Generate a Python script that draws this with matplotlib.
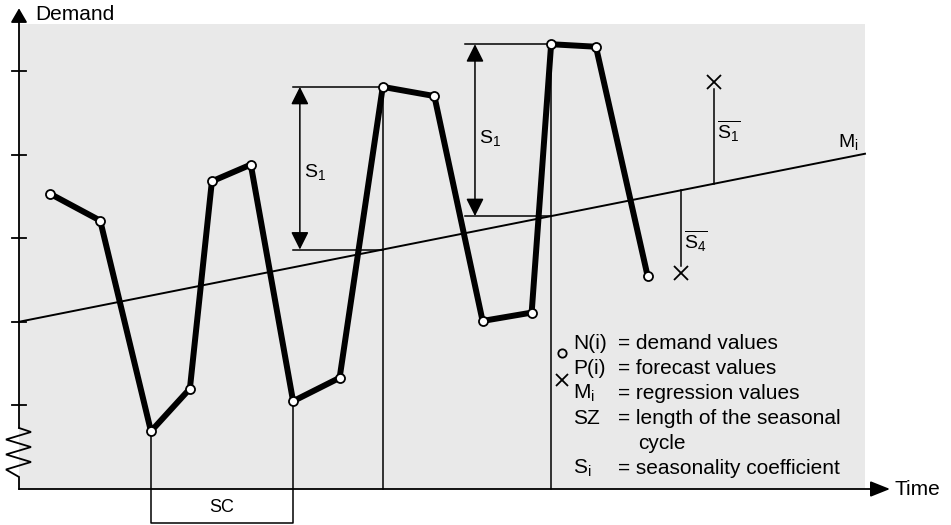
import numpy as np
import matplotlib.pyplot as plt

plt.rcParams['font.family'] = ['Liberation Sans', 'DejaVu Sans']
plt.rcParams['mathtext.fontset'] = 'custom'
plt.rcParams['mathtext.rm'] = 'Liberation Sans'
plt.rcParams['mathtext.it'] = 'Liberation Sans:italic'
plt.rcParams['mathtext.bf'] = 'Liberation Sans:bold'

# demand values N(i) over time (schematic units)
time = [3.7, 9.6, 15.6, 20.2, 22.8, 27.4, 32.4, 37.9, 43.0, 49.1, 54.8, 60.6, 62.9, 68.2, 74.3]
demand = [35.3, 32.1, 6.9, 12.0, 36.8, 38.8, 10.5, 13.3, 48.1, 47.0, 20.1, 21.1, 53.2, 52.9, 25.5]

# regression line M_i
reg_t = [0, 100]
reg_intercept = 20.0
reg_slope = 0.201

# forecast values P(i)
fc_time = [82.2, 78.3]
fc_value = [48.7, 25.8]
fc_labels = [r'$\overline{\mathrm{S_1}}$', r'$\overline{\mathrm{S_4}}$']

yticks = [10, 20, 30, 40, 50]

legend_sym = ['N(i)', 'P(i)', r'M$_\mathrm{i}$', 'SZ', '', r'S$_\mathrm{i}$']
legend_txt = ['= demand values', '= forecast values', '= regression values',
              '= length of the seasonal', '', '= seasonality coefficient']


def reg(t):
    return reg_intercept + reg_slope * np.asarray(t)


fig = plt.figure(figsize=(9.51, 5.25), dpi=100)
ax = fig.add_axes([0, 0, 1, 1])
ax.set_xlim(-2.246, 110.17)
ax.set_ylim(-4.306, 58.49)
ax.axis('off')

# plot area background
ax.add_patch(plt.Rectangle((0, 0), 100, 55.6, facecolor='#e9e9e9', edgecolor='none', zorder=0))

# axes with arrows and the broken-axis zigzag
zz_x = [0, 0, -1.54, 1.42, -1.54, 1.42, -1.54, 1.42, 0]
zz_y = [0, 1.44, 2.33, 3.23, 4.13, 5.02, 5.92, 6.82, 7.30]
ax.plot(zz_x, zz_y, color='k', lw=1.3, zorder=3, solid_joinstyle='miter')
ax.annotate('', xy=(0, 57.5), xytext=(0, 7.30),
            arrowprops=dict(arrowstyle='-|>,head_length=0.43,head_width=0.25', mutation_scale=20,
                            color='k', lw=1.3, shrinkA=0, shrinkB=0), zorder=3)
ax.annotate('', xy=(102.96, 0), xytext=(0, 0),
            arrowprops=dict(arrowstyle='-|>,head_length=0.6,head_width=0.24', mutation_scale=20,
                            color='k', lw=1.3, shrinkA=0, shrinkB=0), zorder=3)
for yt in yticks:
    ax.plot([-0.83, 0.83], [yt, yt], color='k', lw=1.3, zorder=3)
ax.text(1.9, 56.75, 'Demand', fontsize=15, va='center', ha='left')
ax.text(103.5, -0.1, 'Time', fontsize=15, va='center', ha='left')

# regression line
ax.plot(reg_t, reg(reg_t), color='k', lw=1.4, zorder=2)
ax.text(96.8, 41.5, r'M$_\mathrm{i}$', fontsize=14, va='center', ha='left')

# drop lines and season-cycle bracket
t = np.array(time)
d = np.array(demand)
ax.plot([t[8], t[8]], [d[8], 0], color='k', lw=1.1, zorder=2)
ax.plot([t[12], t[12]], [d[12], 0], color='k', lw=1.1, zorder=2)
ax.plot([t[2], t[2], t[6], t[6]], [d[2], -4.07, -4.07, d[6]], color='k', lw=1.1, zorder=2)
ax.text((t[2] + t[6]) / 2, -2.27, 'SC', fontsize=13, va='center', ha='center')

# seasonality coefficient arrows
for i, xa, xl, lab_y in [(8, 33.2, 32.4, 37.9), (12, 53.9, 52.7, 42.0)]:
    top = d[i]
    bot = reg(t[i])
    ax.plot([xl, t[i]], [top, top], color='k', lw=1.1, zorder=2)
    ax.plot([xl, t[i]], [bot, bot], color='k', lw=1.1, zorder=2)
    ax.annotate('', xy=(xa, top), xytext=(xa, bot),
                arrowprops=dict(arrowstyle='<|-|>,head_length=0.54,head_width=0.27', mutation_scale=20,
                                color='k', lw=1.1, shrinkA=0, shrinkB=0), zorder=3)
    ax.text(xa + 0.5, lab_y, r'S$_\mathrm{1}$', fontsize=14, va='center', ha='left')

# forecast values
for ft, fv, fl in zip(fc_time, fc_value, fc_labels):
    m = reg(ft)
    end = fv - 0.84 if fv > m else fv + 0.84
    ax.plot([ft, ft], [m, end], color='k', lw=1.1, zorder=2)
    ax.text(ft + 0.3, (m + fv) / 2 + 0.2 if fv > m else m - 6.1, fl, fontsize=14, va='center', ha='left')
ax.plot(fc_time, fc_value, linestyle='none', marker='x', markersize=10, mew=1.3, color='k', zorder=4)

# demand line
ax.plot(time, demand, color='k', lw=4.3, zorder=5, solid_joinstyle='round', solid_capstyle='round')
ax.plot(time, demand, linestyle='none', marker='o', markersize=6.5, mfc='white', mec='k', mew=1.3, zorder=6)

# legend
ly0 = 17.46
for k, (s, txt) in enumerate(zip(legend_sym, legend_txt)):
    y = ly0 - 2.99 * k
    ax.text(65.5, y, s, fontsize=15, va='center', ha='left')
    ax.text(70.8, y, txt, fontsize=15, va='center', ha='left')
ax.text(73.2, ly0 - 2.99 * 4, 'cycle', fontsize=15, va='center', ha='left')
ax.plot([64.2], [16.27], linestyle='none', marker='o', markersize=6, mfc='none', mec='k', mew=1.3)
ax.plot([64.2], [13.04], linestyle='none', marker='x', markersize=9, mew=1.3, color='k')

fig.savefig('out.png', dpi=100)
